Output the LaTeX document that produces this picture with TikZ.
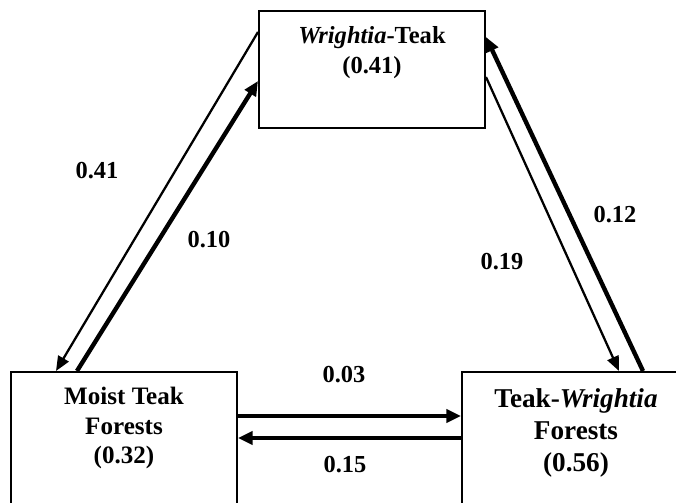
\documentclass[tikz,border=0pt]{standalone}
\usepackage{fontspec}
\setmainfont{Liberation Serif}
\usetikzlibrary{arrows.meta,calc}
\begin{document}
\begin{tikzpicture}[x=0.75pt,y=0.75pt,
  box/.style={draw,line width=1.5pt,rectangle,inner sep=0pt},
  boxtext/.style={anchor=north,align=center,inner sep=0pt},
  lbl/.style={inner sep=0pt,font=\bfseries\fontsize{18.3}{22}\selectfont},
  thinarrow/.style={line width=1.7pt,-{Triangle[length=11pt,width=9pt]}},
  thickarrow/.style={line width=3.3pt,-{Triangle[length=11pt,width=9.5pt]}},
  harrow/.style={line width=2.5pt,-{Triangle[length=11pt,width=10pt]}}]
\useasboundingbox (0,0) rectangle (676,503);
\clip (0,0) rectangle (676,503);
\fill[white] (0,0) rectangle (676,503);
% boxes
\node[box,minimum width=169.5pt,minimum height=87.75pt] (wt) at (372,433.5) {};
\node[box,minimum width=169.5pt,minimum height=118.5pt] (mt) at (124,52) {};
\node[box,minimum width=171pt,minimum height=118.5pt] (tw) at (576,52) {};
% box texts
\node[boxtext,font=\bfseries\fontsize{18.4}{22.5}\selectfont] (wttext) at (372,476.3) {\textit{Wrightia}-Teak\\(0.41)};
\node[boxtext,font=\bfseries\fontsize{18.8}{22.1}\selectfont] (mttext) at (124,116) {Moist Teak\\Forests\\(0.32)};
\node[boxtext,font=\bfseries\fontsize{20.4}{24}\selectfont] (twtext) at (576,114.5) {Teak-\textit{Wrightia}\\Forests\\(0.56)};
% connectors
\draw[thinarrow] ($(wt.north west)+(0,-22)$) -- ($(mt.north west)+(46,0)$);
\draw[thickarrow] ($(mt.north west)+(67,0)$) -- ($(wt.north west)+(0,-71)$);
\draw[thinarrow] ($(wt.north east)+(0,-67)$) -- ($(tw.north west)+(158,0)$);
\draw[thickarrow] ($(tw.north west)+(182,0)$) -- ($(wt.north east)+(0,-27)$);
\draw[harrow] ($(mt.north east)+(0,-45)$) -- ($(tw.north west)+(0,-45)$);
\draw[harrow] ($(tw.north west)+(0,-67)$) -- ($(mt.north east)+(0,-67)$);
% labels
\node[lbl] (l041) at (97,332) {0.41};
\node[lbl] (l010) at (209,263) {0.10};
\node[lbl] (l019) at (502,241) {0.19};
\node[lbl] (l012) at (615,288) {0.12};
\node[lbl] (l003) at (344,128) {0.03};
\node[lbl] (l015) at (345,38) {0.15};
\end{tikzpicture}
\end{document}
